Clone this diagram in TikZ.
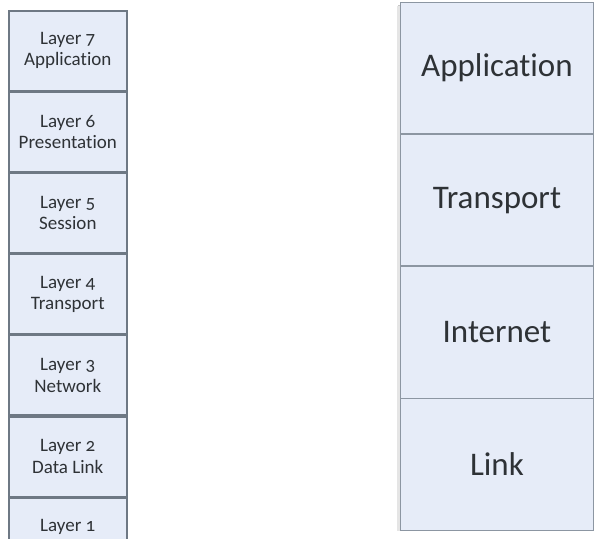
\documentclass[tikz,border=0pt]{standalone}
\usepackage{fontspec}
\setmainfont{Carlito}[Numbers=OldStyle, Ligatures=NoCommon]
\definecolor{boxfill}{HTML}{E6ECF8}
\definecolor{leftline}{HTML}{6E7884}
\definecolor{rightline}{HTML}{8C96A2}
\definecolor{txt}{HTML}{2E3236}
\tikzset{
  osi/.style={draw=leftline, line width=1.6pt, fill=boxfill, minimum width=118pt, minimum height=79.6pt, inner sep=0pt, align=center, font=\fontsize{19}{21.5}\selectfont, text=txt},
  tcp/.style={draw=rightline, line width=0.9pt, fill=boxfill, minimum width=193pt, minimum height=131.25pt, inner sep=0pt, font=\fontsize{33}{36}\selectfont, text=txt},
}
\begin{document}
\begin{tikzpicture}[x=1pt,y=1pt]
\useasboundingbox (0,0) rectangle (596,-538);
\clip (0,0) rectangle (596,-538);
\fill[white] (0,0) rectangle (596,-538);
% left column (OSI)
\node[osi, anchor=north west] (l7) at (8,-10) {Layer 7\\Application};
\node[osi, anchor=north] (l6) at (l7.south) {Layer 6\\Presentation};
\node[osi, anchor=north] (l5) at (l6.south) {Layer 5\\Session};
\node[osi, anchor=north] (l4) at (l5.south) {Layer 4\\Transport};
\node[osi, anchor=north] (l3) at (l4.south) {Layer 3\\Network};
\node[osi, anchor=north] (l2) at (l3.south) {Layer 2\\Data Link};
\node[osi, anchor=north] (l1) at (l2.south) {Layer 1\\Physical};
% right column shadow
\fill[black!22] (398,-5) rectangle (591,-530);
\fill[black!10] (397,-6) rectangle (590,-531);
% right column (TCP/IP)
\node[tcp, anchor=north west] (app) at (400,-2) {Application};
\node[tcp, anchor=north] (tra) at (app.south) {Transport};
\node[tcp, anchor=north] (int) at (tra.south) {Internet};
\node[tcp, anchor=north] (lnk) at (int.south) {Link};
\end{tikzpicture}
\end{document}
